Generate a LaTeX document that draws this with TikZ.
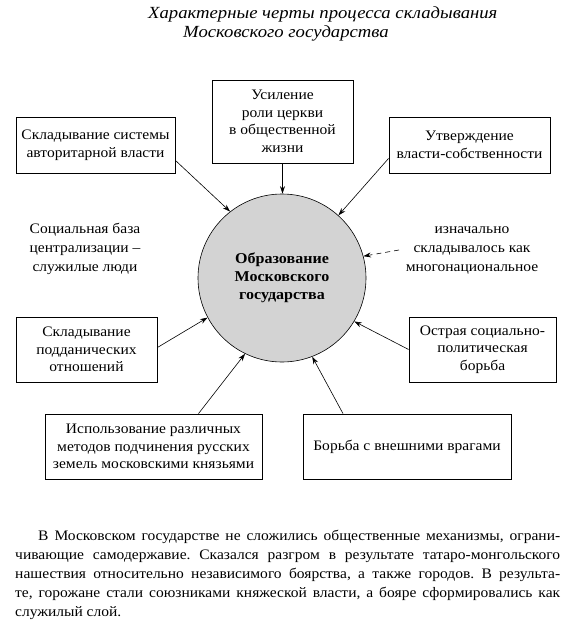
\documentclass[tikz,border=0pt]{standalone}
\usepackage{fontspec}
\setmainfont{Liberation Serif}[FakeStretch=1.07]
\newfontfamily\titlefont{Liberation Serif}[FakeStretch=1.1]
\usetikzlibrary{arrows.meta}
\definecolor{circfill}{RGB}{211,211,211}
\tikzset{
  box/.style={draw, line width=0.8pt, align=center, inner sep=0pt, font=\fontsize{14.5}{17.5}\selectfont},
  link/.style={line width=0.6pt, -{Stealth[length=7.5pt,width=5pt]}},
  note/.style={align=center, inner sep=0pt, font=\fontsize{14.5}{19}\selectfont},
  titleline/.style={anchor=base west, inner sep=0pt, font=\titlefont\itshape\fontsize{17}{20}\selectfont},
  parline/.style={anchor=base west, inner sep=0pt, font=\frenchspacing\fontsize{14.5}{19}\selectfont},
}
\begin{document}
\begin{tikzpicture}[x=1pt,y=-1pt]
\useasboundingbox (0,0) rectangle (569,629);
% title
\node[titleline] (t1) at (148,18.5) {Характерные черты процесса складывания};
\node[titleline] (t2) at (183,37.5) {Московского государства};
% centre
\node[circle, draw, fill=circfill, line width=0.6pt, minimum size=168pt, inner sep=0pt,
      align=center, font=\bfseries\fontsize{15}{18}\selectfont] (O) at (282,278)
      {Образование\\Московского\\государства};
% boxes
\node[box, minimum width=159pt, minimum height=56pt] (A) at (95.5,145) {Складывание системы\\авторитарной власти};
\node[box, minimum width=141pt, minimum height=83pt] (B) at (282.5,121.5) {Усиление\\роли церкви\\в общественной\\жизни};
\node[box, minimum width=161pt, minimum height=56pt] (C) at (469.5,145) {Утверждение\\власти-собственности};
\node[box, minimum width=141pt, minimum height=65pt] (D) at (86.5,349.5) {Складывание\\подданических\\отношений};
\node[box, minimum width=147pt, minimum height=65pt] (E) at (482.5,349.5) {Острая социально-\\политическая\\борьба};
\node[box, minimum width=217pt, minimum height=65pt] (F) at (153.5,446.5) {Использование различных\\методов подчинения русских\\земель московскими князьями};
\node[box, minimum width=208pt, minimum height=65pt] (G) at (407,446.5) {Борьба с внешними врагами};
% free texts
\node[note] (L) at (85,249) {Социальная база\\централизации –\\служилые люди};
\node[note] (R) at (472,250) {изначально\\складывалось как\\многонациональное};
\coordinate (ds) at (399,250);
% connectors
\draw[link] ([yshift=13pt]A.south east) -- (O.128);
\draw[link] (B.south) -- (B.south |- O.north);
\draw[link] ([yshift=15pt]C.south west) -- (O.48);
\draw[link, dash pattern=on 5pt off 4pt] (ds) -- (O.15);
\draw[link] ([yshift=2pt]D.east) -- (O.208);
\draw[link] (E.west) -- (O.329);
\draw[link] ([xshift=45pt]F.north) -- (O.244);
\draw[link] ([xshift=-64pt]G.north) -- (O.291);
% paragraph
\node[parline] (p1) at (38,540.5) {\makebox[522pt][s]{В Московском государстве не сложились общественные механизмы, ограни-}};
\node[parline] (p2) at (15,559.5) {\makebox[545pt][s]{чивающие самодержавие. Сказался разгром в результате татаро-монгольского}};
\node[parline] (p3) at (15,578.5) {\makebox[545pt][s]{нашествия относительно независимого боярства, а также городов. В результа-}};
\node[parline] (p4) at (15,597.5) {\makebox[545pt][s]{те, горожане стали союзниками княжеской власти, а бояре сформировались как}};
\node[parline] (p5) at (15,616.5) {служилый слой.};
\end{tikzpicture}
\end{document}
